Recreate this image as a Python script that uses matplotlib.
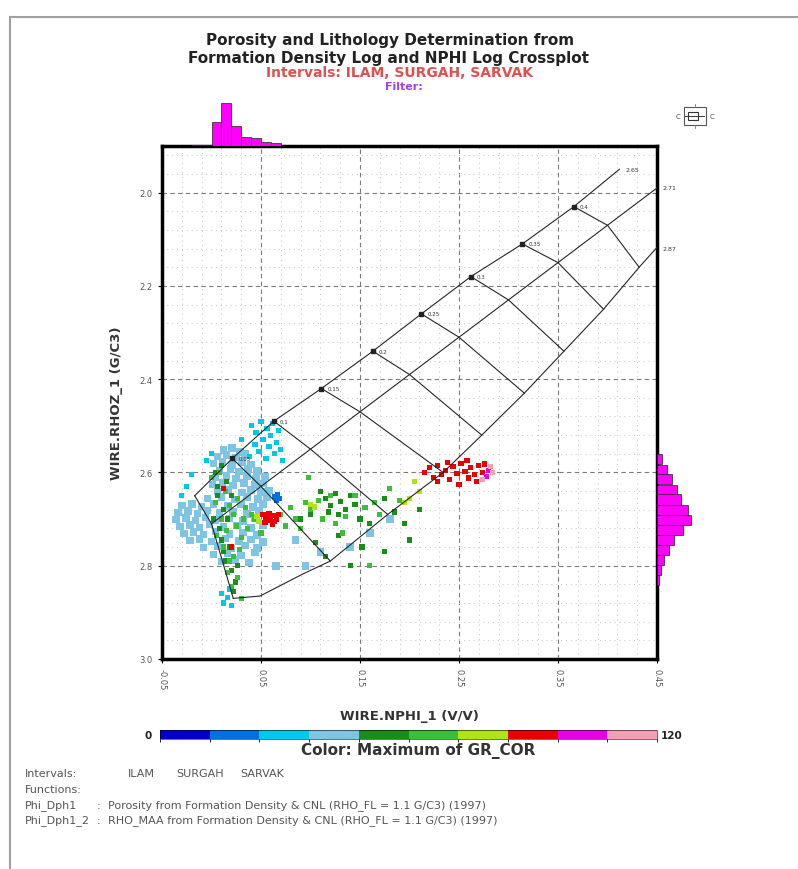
import numpy as np
import matplotlib
matplotlib.use("Agg")
import matplotlib as mpl
import matplotlib.pyplot as plt
from matplotlib.colors import ListedColormap, BoundaryNorm
from matplotlib.ticker import AutoMinorLocator
from matplotlib.patches import Rectangle

plt.rcParams["font.family"] = ["DejaVu Sans"]

W, H = 798, 870

# GR colour classes, 0-120 API in 10 steps
GR_COLORS = ["#0000c8", "#0070e0", "#00c8e8", "#80c4e4", "#1a8c1a",
             "#3cbe3c", "#b0e41a", "#e60000", "#e600e6", "#f4a0b4"]
GR_MIN, GR_MAX = 0, 120

# neutron-density chart lines (RHO_FL = 1.1), porosity steps 0 .. 0.45
PHI_STEPS = [0.0, 0.05, 0.10, 0.15, 0.20, 0.25, 0.30, 0.35, 0.40, 0.45]
SS_NPHI = [-0.017, 0.021, 0.063, 0.111, 0.163, 0.212, 0.262, 0.314, 0.366, 0.412]
SS_RHOB = [2.65, 2.57, 2.49, 2.42, 2.34, 2.26, 2.18, 2.11, 2.03, 1.95]
LS_NPHI = [0.000, 0.050, 0.100, 0.150, 0.200, 0.250, 0.300, 0.350, 0.400, 0.450]
LS_RHOB = [2.71, 2.63, 2.55, 2.47, 2.39, 2.31, 2.23, 2.15, 2.07, 1.99]
DL_NPHI = [0.022, 0.120, 0.178, 0.234, 0.273, 0.316, 0.356, 0.396, 0.432, 0.470]
DL_RHOB = [2.87, 2.79, 2.69, 2.60, 2.52, 2.43, 2.34, 2.25, 2.16, 2.07]
# extra vertices on the dolomite curve between 0 and 0.05
DL_TOE_NPHI = [0.049, 0.092]
DL_TOE_RHOB = [2.865, 2.818]
PHI_LABELS = ["0.05", "0.1", "0.15", "0.2", "0.25", "0.3", "0.35", "0.4"]
MATRIX_LABELS = ["2.65", "2.71", "2.87"]

# crossplot points (NPHI, RHOB) grouped by GR class
BLUE_PTS = [(0.064, 2.652), (0.066, 2.660), (0.069, 2.655), (0.067, 2.648)]
CYAN_PTS = [(0.040, 2.500), (0.045, 2.515), (0.050, 2.490), (0.052, 2.530), (0.056, 2.505),
            (0.058, 2.545), (0.060, 2.520), (0.062, 2.495), (0.064, 2.560), (0.066, 2.535),
            (0.068, 2.510), (0.070, 2.550), (0.055, 2.570), (0.048, 2.555), (0.044, 2.540),
            (0.038, 2.565), (0.072, 2.575), (0.030, 2.530), (0.012, 2.880), (0.016, 2.868),
            (0.020, 2.885), (0.010, 2.860), (0.018, 2.850), (-0.025, 2.630), (-0.030, 2.650),
            (-0.020, 2.605), (0.000, 2.560), (-0.005, 2.575)]
SKY_PTS = [(0.012, 2.552), (0.021, 2.547), (0.029, 2.556),
           (0.006, 2.566), (0.015, 2.563), (0.025, 2.568), (0.034, 2.561),
           (0.002, 2.581), (0.011, 2.578), (0.021, 2.584), (0.031, 2.577), (0.040, 2.583),
           (0.008, 2.596), (0.019, 2.593), (0.028, 2.598), (0.037, 2.592), (0.046, 2.597),
           (0.004, 2.611), (0.015, 2.607), (0.025, 2.613), (0.036, 2.608), (0.045, 2.614), (0.054, 2.609),
           (0.001, 2.626), (0.011, 2.623), (0.022, 2.628), (0.033, 2.622), (0.044, 2.627), (0.052, 2.624),
           (0.006, 2.641), (0.017, 2.638), (0.031, 2.643), (0.040, 2.637), (0.050, 2.642), (0.058, 2.639),
           (-0.004, 2.656), (0.010, 2.653), (0.024, 2.658), (0.036, 2.652), (0.047, 2.657), (0.056, 2.654),
           (-0.030, 2.671), (-0.020, 2.668), (-0.010, 2.673), (0.002, 2.667), (0.016, 2.672),
           (0.030, 2.669), (0.042, 2.674), (0.052, 2.668),
           (-0.034, 2.686), (-0.024, 2.683), (-0.014, 2.688), (-0.004, 2.682), (0.008, 2.687),
           (0.022, 2.684), (0.036, 2.689), (0.048, 2.683),
           (-0.036, 2.701), (-0.026, 2.698), (-0.016, 2.703), (-0.006, 2.697), (0.004, 2.702),
           (0.018, 2.699), (0.032, 2.704), (0.044, 2.698),
           (-0.032, 2.716), (-0.022, 2.713), (-0.012, 2.718), (-0.002, 2.712), (0.012, 2.717),
           (0.026, 2.714), (0.040, 2.719), (0.052, 2.713),
           (-0.028, 2.731), (-0.018, 2.728), (-0.008, 2.733), (0.004, 2.727), (0.018, 2.732),
           (0.032, 2.729), (0.046, 2.734),
           (-0.022, 2.746), (-0.012, 2.743), (0.000, 2.748), (0.014, 2.742), (0.028, 2.747),
           (0.040, 2.744), (0.052, 2.749),
           (-0.008, 2.761), (0.006, 2.758), (0.020, 2.763), (0.034, 2.757), (0.046, 2.762),
           (0.002, 2.776), (0.016, 2.773), (0.030, 2.778), (0.044, 2.772),
           (0.010, 2.791), (0.024, 2.788), (0.038, 2.793),
           (0.085, 2.745), (0.110, 2.770), (0.140, 2.760), (0.160, 2.730), (0.095, 2.800),
           (0.065, 2.800), (0.180, 2.700)]
DKGREEN_PTS = [(0.004, 2.600), (0.010, 2.585), (0.015, 2.620), (0.006, 2.650), (0.012, 2.680),
               (0.002, 2.700), (0.008, 2.720), (0.016, 2.700), (0.010, 2.745), (0.018, 2.760),
               (0.014, 2.790), (0.020, 2.810), (0.024, 2.835), (0.022, 2.855), (0.026, 2.800),
               (0.006, 2.630), (0.020, 2.650), (0.012, 2.770),
               (0.115, 2.655), (0.120, 2.670), (0.125, 2.645), (0.130, 2.662), (0.135, 2.680),
               (0.140, 2.650), (0.128, 2.690), (0.118, 2.685), (0.145, 2.668), (0.110, 2.640),
               (0.100, 2.690), (0.090, 2.700), (0.150, 2.700), (0.160, 2.710), (0.175, 2.655),
               (0.185, 2.685), (0.195, 2.710), (0.152, 2.760), (0.128, 2.735), (0.140, 2.800),
               (0.115, 2.780), (0.175, 2.770), (0.105, 2.750), (0.200, 2.745), (0.210, 2.680)]
GREEN_PTS = [(0.000, 2.610), (0.008, 2.600), (0.014, 2.640), (0.004, 2.665), (0.018, 2.670),
             (0.010, 2.700), (0.022, 2.690), (0.005, 2.735), (0.015, 2.725), (0.025, 2.715),
             (0.030, 2.740), (0.012, 2.760), (0.022, 2.780), (0.028, 2.765), (0.016, 2.815),
             (0.026, 2.825), (0.020, 2.845), (0.030, 2.870), (0.018, 2.790), (0.032, 2.700),
             (0.036, 2.720), (0.040, 2.690), (0.026, 2.655), (0.034, 2.675), (0.044, 2.700),
             (0.050, 2.730),
             (0.070, 2.690), (0.080, 2.675), (0.085, 2.700), (0.095, 2.665), (0.100, 2.680),
             (0.108, 2.660), (0.112, 2.700), (0.120, 2.650), (0.125, 2.710), (0.135, 2.695),
             (0.145, 2.650), (0.155, 2.675), (0.165, 2.665), (0.170, 2.690), (0.090, 2.720),
             (0.075, 2.715), (0.098, 2.610), (0.180, 2.635), (0.190, 2.660), (0.132, 2.730),
             (0.160, 2.800)]
YGREEN_PTS = [(0.046, 2.695), (0.048, 2.705), (0.100, 2.668), (0.104, 2.674), (0.205, 2.620),
              (0.210, 2.640), (0.200, 2.655), (0.215, 2.600), (0.195, 2.665), (0.220, 2.590)]
RED_PTS = [(0.052, 2.690), (0.055, 2.700), (0.058, 2.688), (0.060, 2.702), (0.063, 2.692),
           (0.066, 2.700), (0.068, 2.690), (0.054, 2.708), (0.062, 2.712), (0.057, 2.695),
           (0.064, 2.706), (0.012, 2.635), (0.020, 2.760),
           (0.215, 2.600), (0.220, 2.590), (0.224, 2.610), (0.228, 2.585), (0.232, 2.605),
           (0.236, 2.595), (0.240, 2.615), (0.244, 2.588), (0.248, 2.602), (0.252, 2.580),
           (0.256, 2.598), (0.260, 2.612), (0.262, 2.590), (0.266, 2.604), (0.270, 2.585),
           (0.274, 2.600), (0.268, 2.620), (0.250, 2.625), (0.238, 2.578), (0.228, 2.620),
           (0.258, 2.575), (0.276, 2.582)]
MAGENTA_PTS = [(0.280, 2.595), (0.278, 2.608)]
PINK_PTS = [(0.282, 2.588), (0.274, 2.615), (0.284, 2.600)]
# (points, GR value, marker area)
POINT_GROUPS = [(SKY_PTS, 42, 30), (CYAN_PTS, 30, 14), (BLUE_PTS, 18, 14),
                (DKGREEN_PTS, 54, 14), (GREEN_PTS, 66, 14), (YGREEN_PTS, 78, 14),
                (RED_PTS, 90, 14), (MAGENTA_PTS, 102, 14), (PINK_PTS, 114, 14)]

# marginal histograms
NPHI_BIN_CENTERS = [-0.015, -0.005, 0.005, 0.015, 0.025, 0.035, 0.045, 0.055, 0.065]
NPHI_COUNTS = [1, 1, 24, 43, 20, 9, 8, 4, 3]
RHOB_BIN_CENTERS = [2.572, 2.594, 2.615, 2.637, 2.658, 2.680, 2.701, 2.723, 2.744,
                    2.766, 2.787, 2.809, 2.830]
RHOB_COUNTS = [5, 10, 15, 20, 24, 31, 34, 26, 17, 12, 7, 4, 1.5]

X_TICKS = [-0.05, 0.05, 0.15, 0.25, 0.35, 0.45]
Y_TICKS = [2.0, 2.2, 2.4, 2.6, 2.8, 3.0]


def fx(px):
    return px / W


def fy(py):
    return 1 - py / H


fig = plt.figure(figsize=(W / 100, H / 100), dpi=100)

# page frame
fig.add_artist(plt.Line2D([fx(10), fx(10)], [fy(18), 0], color="#a0a0a0", lw=1.5))
fig.add_artist(plt.Line2D([fx(10), 1], [fy(18), fy(18)], color="#a0a0a0", lw=1.5))

fig.text(fx(390), fy(41), "Porosity and Lithology Determination from", ha="center",
         va="center", fontsize=11, fontweight="bold", color="#222222")
fig.text(fx(388), fy(58), "Formation Density Log and NPHI Log Crossplot", ha="center",
         va="center", fontsize=11, fontweight="bold", color="#222222")
fig.text(fx(400), fy(73), "Intervals: ILAM, SURGAH, SARVAK", ha="center", va="center",
         fontsize=10, fontweight="bold", color="#e05050")
fig.text(fx(404), fy(87), "Filter:", ha="center", va="center", fontsize=8,
         fontweight="bold", color="#a040e8")

# main crossplot
ax = fig.add_axes([fx(162), fy(660), (657 - 162) / W, (660 - 147) / H])
ax.set_xlim(-0.05, 0.45)
ax.set_ylim(3.0, 1.9)
ax.set_xticks(X_TICKS)
ax.set_xticklabels([f"{v:.2f}" for v in X_TICKS], rotation=270)
ax.set_yticks(Y_TICKS)
ax.set_yticklabels([f"{v:.1f}" for v in Y_TICKS])
ax.xaxis.set_minor_locator(AutoMinorLocator(5))
ax.yaxis.set_minor_locator(AutoMinorLocator(5))
ax.tick_params(which="major", labelsize=6, labelcolor="#555555", length=3, width=0.8)
ax.tick_params(which="minor", length=0)
ax.grid(which="major", color="#7a7a7a", linestyle=(0, (4, 3)), linewidth=0.8)
ax.grid(which="minor", color="#c4c4c4", linestyle=(0, (1, 4)), linewidth=0.7)
for s in ax.spines.values():
    s.set_linewidth(2.5)
    s.set_color("black")
ax.set_xlabel("WIRE.NPHI_1 (V/V)", fontsize=9.5, fontweight="bold", color="#333333", labelpad=14)
ax.set_ylabel("WIRE.RHOZ_1 (G/C3)", fontsize=9.5, fontweight="bold", color="#333333", labelpad=12)

cmap = ListedColormap(GR_COLORS)
norm = BoundaryNorm(np.linspace(GR_MIN, GR_MAX, len(GR_COLORS) + 1), cmap.N)
for pts, gr, size in POINT_GROUPS:
    arr = np.array(pts)
    ax.scatter(arr[:, 0], arr[:, 1], c=np.full(len(arr), gr), cmap=cmap, norm=norm,
               s=size, marker="s", linewidths=0, zorder=3)

line_kw = dict(color="#262626", lw=0.8, zorder=4)
ax.plot(SS_NPHI, SS_RHOB, **line_kw)
ax.plot(LS_NPHI, LS_RHOB, **line_kw)
ax.plot([DL_NPHI[0]] + DL_TOE_NPHI + DL_NPHI[1:],
        [DL_RHOB[0]] + DL_TOE_RHOB + DL_RHOB[1:], **line_kw)
for i in range(len(PHI_STEPS) - 1):
    ax.plot([SS_NPHI[i], LS_NPHI[i], DL_NPHI[i]],
            [SS_RHOB[i], LS_RHOB[i], DL_RHOB[i]], **line_kw)
ax.plot(SS_NPHI[1:-1], SS_RHOB[1:-1], "s", color="#222222", ms=2.2, zorder=5)
for x, y, lab in zip(SS_NPHI[1:-1], SS_RHOB[1:-1], PHI_LABELS):
    ax.text(x + 0.006, y, lab, fontsize=4, color="#333333", va="center", zorder=5)
ax.text(SS_NPHI[-1] + 0.006, SS_RHOB[-1], MATRIX_LABELS[0], fontsize=4.5,
        color="#333333", va="center")
ax.text(0.456, LS_RHOB[-1], MATRIX_LABELS[1], fontsize=4.5, color="#333333",
        va="center", clip_on=False)
ax.text(0.456, 2.12, MATRIX_LABELS[2], fontsize=4.5, color="#333333",
        va="center", clip_on=False)

# marginal histograms
hx = fig.add_axes([fx(162), fy(147), (657 - 162) / W, 47 / H])
hx.bar(NPHI_BIN_CENTERS, NPHI_COUNTS, width=0.01, color="#ff00ff",
       edgecolor="#202020", linewidth=0.5)
hx.set_xlim(-0.05, 0.45)
hx.set_ylim(0, 47)
hx.axis("off")

hy = fig.add_axes([fx(657), fy(660), 40 / W, (660 - 147) / H])
hy.barh(RHOB_BIN_CENTERS, RHOB_COUNTS, height=0.0215, color="#ff00ff",
        edgecolor="#202020", linewidth=0.5)
hy.set_ylim(3.0, 1.9)
hy.set_xlim(0, 40)
hy.axis("off")

# statistics icon
ic = fig.add_axes([fx(672), fy(132), 45 / W, 30 / H])
ic.set_xlim(0, 45)
ic.set_ylim(0, 30)
ic.axis("off")
ic.add_patch(Rectangle((12, 6), 22, 18, fill=False, ec="#555555", lw=0.8))
ic.add_patch(Rectangle((16, 11), 10, 8, fill=False, ec="#333333", lw=0.8))
ic.plot([13, 32], [15, 15], color="#333333", lw=0.7)
ic.plot([23, 23], [3, 6], color="#777777", lw=0.6)
ic.plot([23, 23], [24, 27], color="#777777", lw=0.6)
ic.text(6, 15, "C", fontsize=5, color="#444444", ha="center", va="center")
ic.text(40, 15, "C", fontsize=5, color="#444444", ha="center", va="center")

# GR colour bar
cax = fig.add_axes([fx(160), fy(740), (657 - 160) / W, 9 / H])
cb = mpl.colorbar.ColorbarBase(cax, cmap=cmap, norm=norm, orientation="horizontal")
cb.set_ticks([])
cb.outline.set_linewidth(0.4)
fig.text(fx(152), fy(736), str(GR_MIN), ha="right", va="center", fontsize=7.5,
         fontweight="bold", color="#222222")
fig.text(fx(661), fy(736), str(GR_MAX), ha="left", va="center", fontsize=7.5,
         fontweight="bold", color="#222222")
fig.text(fx(418), fy(751), "Color: Maximum of GR_COR", ha="center", va="center",
         fontsize=11, fontweight="bold", color="#333333")

# footer
foot = dict(fontsize=8, color="#555555", va="center")
fig.text(fx(25), fy(774), "Intervals:", **foot)
fig.text(fx(128), fy(774), "ILAM", **foot)
fig.text(fx(176), fy(774), "SURGAH", **foot)
fig.text(fx(240), fy(774), "SARVAK", **foot)
fig.text(fx(25), fy(790), "Functions:", **foot)
fig.text(fx(25), fy(806), "Phi_Dph1", **foot)
fig.text(fx(97), fy(806), ":", **foot)
fig.text(fx(108), fy(806), "Porosity from Formation Density & CNL (RHO_FL = 1.1 G/C3) (1997)", **foot)
fig.text(fx(25), fy(821), "Phi_Dph1_2", **foot)
fig.text(fx(97), fy(821), ":", **foot)
fig.text(fx(108), fy(821), "RHO_MAA from Formation Density & CNL (RHO_FL = 1.1 G/C3) (1997)", **foot)

fig.savefig("out.png", dpi=100)
